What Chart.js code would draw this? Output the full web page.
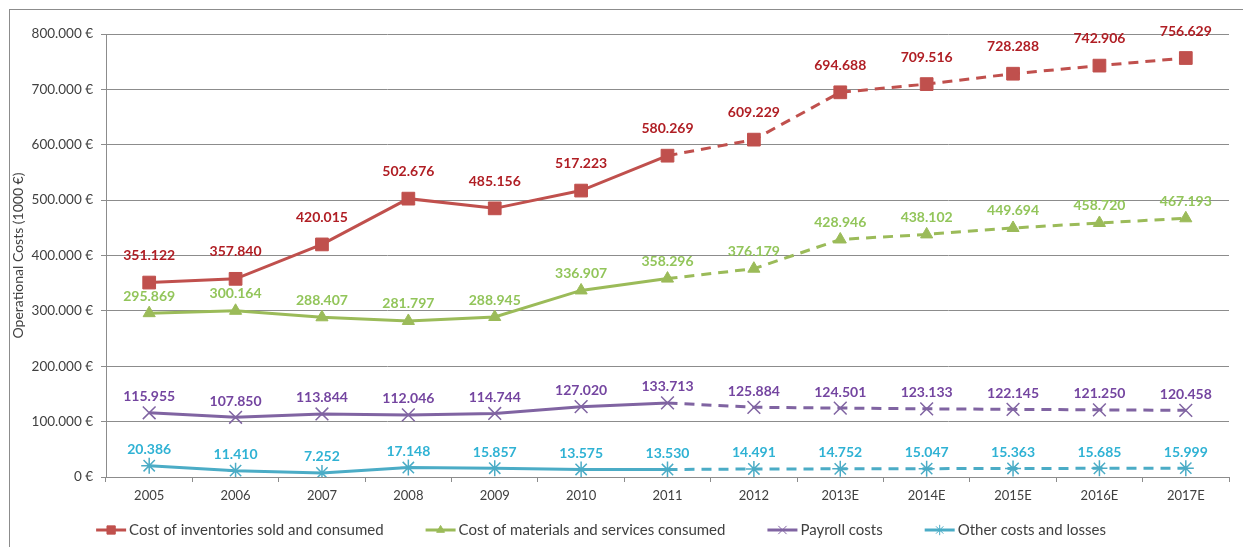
<!DOCTYPE html>
<html lang="en">
<head>
    <meta charset="UTF-8">
    <title>Operational Costs</title>
    <script src="https://cdn.jsdelivr.net/npm/chart.js"></script>
    <style>
        html, body { margin: 0; padding: 0; background: #fff; }
        #wrap { width: 1243px; height: 547px; }
    </style>
</head>
<body>
    <div id="wrap"><canvas id="costChart" width="1243" height="547"></canvas></div>

    <script>
        // years, last five are estimates
        const years = ["2005", "2006", "2007", "2008", "2009", "2010", "2011", "2012", "2013E", "2014E", "2015E", "2016E", "2017E"];

        // values in thousand euro
        const inventories = [351122, 357840, 420015, 502676, 485156, 517223, 580269, 609229, 694688, 709516, 728288, 742906, 756629];
        const materials = [295869, 300164, 288407, 281797, 288945, 336907, 358296, 376179, 428946, 438102, 449694, 458720, 467193];
        const payroll = [115955, 107850, 113844, 112046, 114744, 127020, 133713, 125884, 124501, 123133, 122145, 121250, 120458];
        const otherCosts = [20386, 11410, 7252, 17148, 15857, 13575, 13530, 14491, 14752, 15047, 15363, 15685, 15999];

        const yTicks = [0, 100000, 200000, 300000, 400000, 500000, 600000, 700000, 800000];

        // index of the last actual year (2011): lines are dashed after it
        const lastActual = 6;

        const FONT = "Lato, 'Open Sans', sans-serif";

        const dotted = n => String(n).replace(/\B(?=(\d{3})+(?!\d))/g, '.');

        const makeSeries = (label, data, color, labelColor, style, radius, labelOffset) => ({
            label,
            data,
            borderColor: color,
            backgroundColor: color,
            borderWidth: 3,
            pointStyle: style,
            pointRadius: radius,
            pointHoverRadius: radius,
            pointBorderWidth: style === 'rect' || style === 'triangle' ? 1 : 1.5,
            tension: 0,
            labelColor,
            labelOffset,
            segment: {
                borderDash: ctx => ctx.p0DataIndex >= lastActual ? [10, 7] : undefined
            }
        });

        // value labels above each point
        const valueLabels = {
            id: 'valueLabels',
            afterDatasetsDraw(chart) {
                const ctx = chart.ctx;
                ctx.save();
                ctx.font = "bold 14px " + FONT;
                ctx.textAlign = 'center';
                ctx.textBaseline = 'middle';
                chart.data.datasets.forEach((ds, i) => {
                    const meta = chart.getDatasetMeta(i);
                    ctx.fillStyle = ds.labelColor;
                    meta.data.forEach((pt, j) => {
                        ctx.fillText(dotted(ds.data[j]), pt.x, pt.y - ds.labelOffset);
                    });
                });
                ctx.restore();
            }
        };

        // outer frame
        const frame = {
            id: 'frame',
            beforeDraw(chart) {
                const ctx = chart.ctx;
                ctx.save();
                ctx.strokeStyle = '#8c8c8c';
                ctx.lineWidth = 1;
                ctx.strokeRect(9.5, 9.5, 1300, 600);
                ctx.restore();
            }
        };

        // legend: short line with the series marker, then the name
        const lineLegend = {
            id: 'lineLegend',
            afterDraw(chart) {
                const ctx = chart.ctx;
                const y = 530;
                const symW = 30, gap = 3, spacing = 42;
                ctx.save();
                ctx.font = "15px " + FONT;
                ctx.textBaseline = 'middle';
                const items = chart.data.datasets.map(ds => ({ ds, w: ctx.measureText(ds.label).width }));
                const total = items.reduce((s, it) => s + symW + gap + it.w, 0) + spacing * (items.length - 1);
                let x = 601 - total / 2;
                items.forEach(it => {
                    const ds = it.ds;
                    ctx.strokeStyle = ds.borderColor;
                    ctx.fillStyle = ds.borderColor;
                    ctx.lineWidth = 3;
                    ctx.setLineDash([]);
                    ctx.beginPath();
                    ctx.moveTo(x, y);
                    ctx.lineTo(x + symW, y);
                    ctx.stroke();
                    ctx.lineWidth = 1;
                    Chart.helpers.drawPoint(ctx, {
                        pointStyle: ds.pointStyle,
                        radius: ds.pointRadius * 0.65,
                        borderWidth: 1
                    }, x + symW / 2, y);
                    ctx.fillStyle = '#404040';
                    ctx.fillText(ds.label, x + symW + gap, y);
                    x += symW + gap + it.w + spacing;
                });
                ctx.restore();
            }
        };

        new Chart(document.getElementById('costChart'), {
            type: 'line',
            data: {
                labels: years,
                datasets: [
                    makeSeries('Cost of inventories sold and consumed', inventories, '#C0504D', '#B01E24', 'rect', 9, 27),
                    makeSeries('Cost of materials and services consumed', materials, '#9BBB59', '#92C55A', 'triangle', 7, 17),
                    makeSeries('Payroll costs', payroll, '#8064A2', '#7445A0', 'crossRot', 9, 16),
                    makeSeries('Other costs and losses', otherCosts, '#4BACC6', '#2FB2D4', 'star', 8, 16)
                ]
            },
            options: {
                responsive: false,
                animation: false,
                events: [],
                layout: { padding: { left: 8, right: 14, top: 34, bottom: 40 } },
                plugins: {
                    legend: { display: false },
                    tooltip: { enabled: false }
                },
                scales: {
                    x: {
                        offset: true,
                        afterFit: s => { s.height = 30; },
                        grid: {
                            offset: true,
                            drawOnChartArea: false,
                            drawTicks: true,
                            tickLength: 5,
                            color: '#8c8c8c'
                        },
                        border: { color: '#8c8c8c' },
                        ticks: {
                            color: '#404040',
                            padding: 6,
                            maxRotation: 0,
                            font: { family: FONT, size: 13 }
                        }
                    },
                    y: {
                        min: 0,
                        max: 800000,
                        afterFit: s => { s.width = 98; },
                        afterBuildTicks: s => { s.ticks = yTicks.map(v => ({ value: v })); },
                        grid: {
                            color: '#8c8c8c',
                            tickLength: 5
                        },
                        border: { color: '#8c8c8c' },
                        ticks: {
                            color: '#404040',
                            padding: 8,
                            font: { family: FONT, size: 13.5 },
                            callback: v => v === 0 ? '0 €' : dotted(v) + ' €'
                        },
                        title: {
                            display: true,
                            text: 'Operational Costs (1000 €)',
                            color: '#404040',
                            padding: 2,
                            font: { family: FONT, size: 14 }
                        }
                    }
                }
            },
            plugins: [frame, valueLabels, lineLegend]
        });
    </script>
</body>
</html>
